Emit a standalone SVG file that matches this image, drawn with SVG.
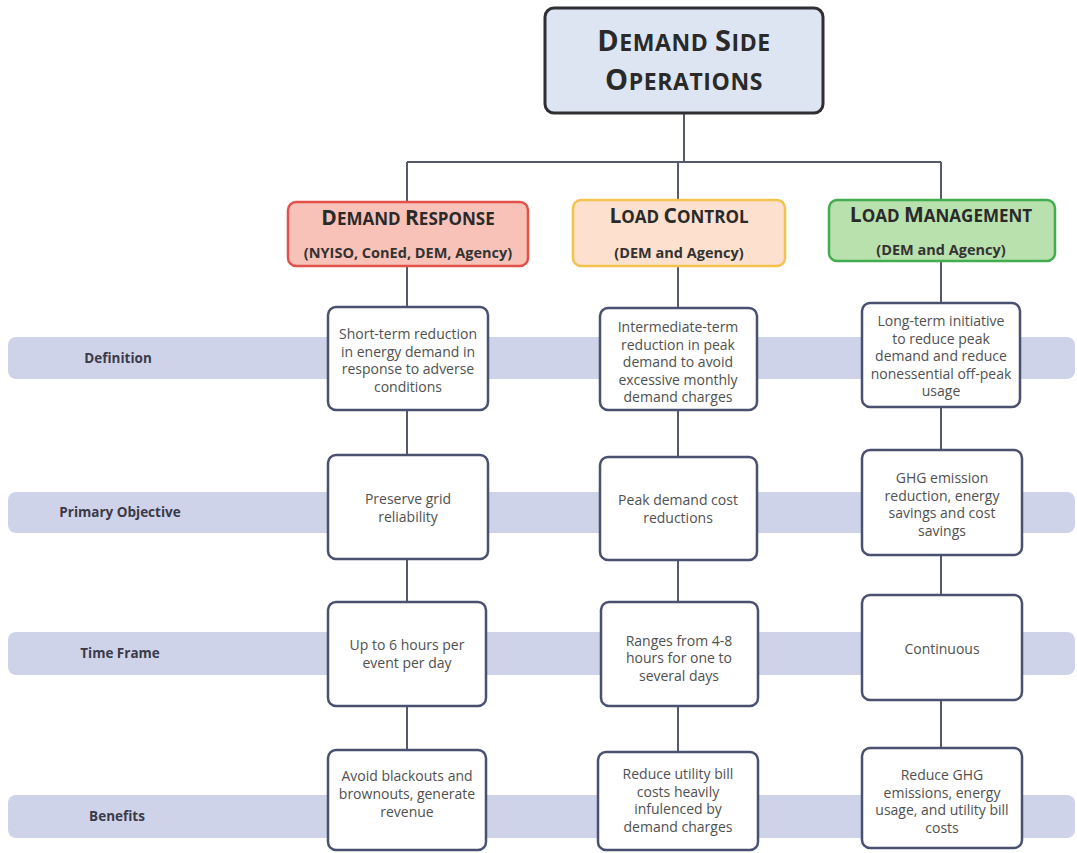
<svg xmlns="http://www.w3.org/2000/svg" width="1077" height="853" viewBox="0 0 1077 853">
<style>
.band{fill:#cfd3ea}
.lbl{font-family:"Open Sans","Liberation Sans",sans-serif;font-weight:bold;font-size:13.5px;fill:#3a3a48;text-anchor:middle}
.cell{fill:#ffffff;stroke:#4a5070;stroke-width:2.5}
.ct{font-family:"Open Sans","Liberation Sans",sans-serif;font-size:14px;fill:#505050;text-anchor:middle}
.conn{stroke:#555a6a;stroke-width:2;fill:none}
.hd{font-family:"Open Sans","Liberation Sans",sans-serif;font-weight:bold;fill:#2a2a2a;text-anchor:middle}
.sub{font-family:"Open Sans","Liberation Sans",sans-serif;font-weight:bold;font-size:14.5px;fill:#333333;text-anchor:middle}
</style>
<rect width="1077" height="853" fill="#ffffff"/>
<g id="bands">
<rect class="band" x="8" y="337" width="1067" height="42" rx="8"/>
<rect class="band" x="8" y="492" width="1067" height="41" rx="8"/>
<rect class="band" x="8" y="632" width="1067" height="43" rx="8"/>
<rect class="band" x="8" y="795" width="1067" height="43" rx="8"/>
<text class="lbl" x="118" y="363">Definition</text>
<text class="lbl" x="120" y="517">Primary Objective</text>
<text class="lbl" x="120" y="658">Time Frame</text>
<text class="lbl" x="117" y="821">Benefits</text>
</g>
<g id="connectors">
<path class="conn" d="M684 113 V162 M407 162 H941 M407 162 V760 M678 162 V760 M941 162 V760"/>
</g>
<g id="root">
<rect x="545" y="8" width="278" height="105" rx="9" fill="#dde5f3" stroke="#2e2e33" stroke-width="3"/>
<text class="hd" x="684" y="51" letter-spacing="0.6"><tspan font-size="29">D</tspan><tspan font-size="23">EMAND </tspan><tspan font-size="29">S</tspan><tspan font-size="23">IDE</tspan></text>
<text class="hd" x="684" y="90" letter-spacing="0.6"><tspan font-size="29">O</tspan><tspan font-size="23">PERATIONS</tspan></text>
</g>
<g id="demand-response">
<rect x="288" y="202" width="240" height="64" rx="8" fill="#f8c2b8" stroke="#e2524a" stroke-width="2.5"/>
<text class="hd" x="408" y="225"><tspan font-size="21">D</tspan><tspan font-size="17">EMAND </tspan><tspan font-size="21">R</tspan><tspan font-size="17">ESPONSE</tspan></text>
<text class="sub" x="408" y="258">(NYISO, ConEd, DEM, Agency)</text>
</g>
<g id="load-control">
<rect x="573" y="200" width="212" height="66" rx="8" fill="#fde0cd" stroke="#f3c24f" stroke-width="2.5"/>
<text class="hd" x="679" y="223"><tspan font-size="21">L</tspan><tspan font-size="17">OAD </tspan><tspan font-size="21">C</tspan><tspan font-size="17">ONTROL</tspan></text>
<text class="sub" x="679" y="258">(DEM and Agency)</text>
</g>
<g id="load-management">
<rect x="829" y="200" width="226" height="61" rx="8" fill="#b9e1ae" stroke="#41ad4f" stroke-width="2.5"/>
<text class="hd" x="941" y="222"><tspan font-size="21">L</tspan><tspan font-size="17">OAD </tspan><tspan font-size="21">M</tspan><tspan font-size="17">ANAGEMENT</tspan></text>
<text class="sub" x="941" y="255">(DEM and Agency)</text>
</g>
<g id="dr-definition">
<rect class="cell" x="328" y="307" width="160" height="103" rx="8"/>
<text class="ct"><tspan x="408" y="339">Short-term reduction</tspan><tspan x="408" y="356.5">in energy demand in</tspan><tspan x="408" y="374">response to adverse</tspan><tspan x="408" y="391.5">conditions</tspan></text>
</g>
<g id="dr-objective">
<rect class="cell" x="328" y="455" width="160" height="104" rx="8"/>
<text class="ct"><tspan x="408" y="504">Preserve grid</tspan><tspan x="408" y="522">reliability</tspan></text>
</g>
<g id="dr-timeframe">
<rect class="cell" x="328" y="602" width="158" height="104" rx="8"/>
<text class="ct"><tspan x="407" y="650">Up to 6 hours per</tspan><tspan x="407" y="667.5">event per day</tspan></text>
</g>
<g id="dr-benefits">
<rect class="cell" x="328" y="750" width="158" height="100" rx="8"/>
<text class="ct"><tspan x="407" y="781">Avoid blackouts and</tspan><tspan x="407" y="799">brownouts, generate</tspan><tspan x="407" y="817">revenue</tspan></text>
</g>
<g id="lc-definition">
<rect class="cell" x="600" y="308" width="157" height="102" rx="8"/>
<text class="ct"><tspan x="678" y="332">Intermediate-term</tspan><tspan x="678" y="349.5">reduction in peak</tspan><tspan x="678" y="367">demand to avoid</tspan><tspan x="678" y="384.5">excessive monthly</tspan><tspan x="678" y="402">demand charges</tspan></text>
</g>
<g id="lc-objective">
<rect class="cell" x="600" y="457" width="157" height="103" rx="8"/>
<text class="ct"><tspan x="678" y="505">Peak demand cost</tspan><tspan x="678" y="523">reductions</tspan></text>
</g>
<g id="lc-timeframe">
<rect class="cell" x="601" y="602" width="157" height="104" rx="8"/>
<text class="ct"><tspan x="679" y="645.5">Ranges from 4-8</tspan><tspan x="679" y="663">hours for one to</tspan><tspan x="679" y="680.5">several days</tspan></text>
</g>
<g id="lc-benefits">
<rect class="cell" x="598" y="752" width="160" height="98" rx="8"/>
<text class="ct"><tspan x="678" y="779">Reduce utility bill</tspan><tspan x="678" y="796.5">costs heavily</tspan><tspan x="678" y="814">infulenced by</tspan><tspan x="678" y="831.5">demand charges</tspan></text>
</g>
<g id="lm-definition">
<rect class="cell" x="862" y="303" width="158" height="104" rx="8"/>
<text class="ct"><tspan x="941" y="326">Long-term initiative</tspan><tspan x="941" y="343.5">to reduce peak</tspan><tspan x="941" y="361">demand and reduce</tspan><tspan x="941" y="378.5">nonessential off-peak</tspan><tspan x="941" y="396">usage</tspan></text>
</g>
<g id="lm-objective">
<rect class="cell" x="862" y="450" width="160" height="105" rx="8"/>
<text class="ct"><tspan x="942" y="483">GHG emission</tspan><tspan x="942" y="500.5">reduction, energy</tspan><tspan x="942" y="518">savings and cost</tspan><tspan x="942" y="535.5">savings</tspan></text>
</g>
<g id="lm-timeframe">
<rect class="cell" x="862" y="595" width="160" height="105" rx="8"/>
<text class="ct"><tspan x="942" y="654">Continuous</tspan></text>
</g>
<g id="lm-benefits">
<rect class="cell" x="862" y="748" width="160" height="100" rx="8"/>
<text class="ct"><tspan x="942" y="780">Reduce GHG</tspan><tspan x="942" y="797.5">emissions, energy</tspan><tspan x="942" y="815">usage, and utility bill</tspan><tspan x="942" y="832.5">costs</tspan></text>
</g>
</svg>
